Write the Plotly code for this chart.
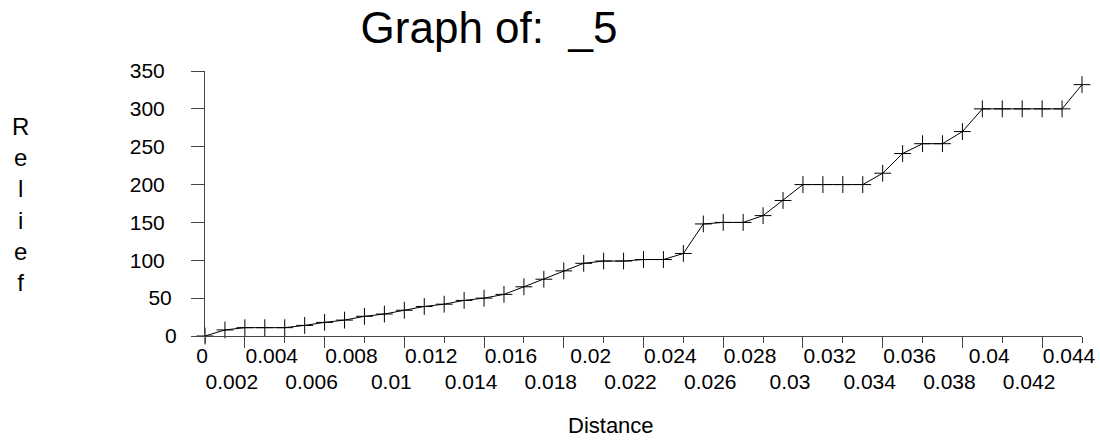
import plotly.graph_objects as go

# Relief profile sampled along the distance axis
distance = [0.000, 0.001, 0.002, 0.003, 0.004, 0.005, 0.006, 0.007, 0.008, 0.009,
            0.010, 0.011, 0.012, 0.013, 0.014, 0.015, 0.016, 0.017, 0.018, 0.019,
            0.020, 0.021, 0.022, 0.023, 0.024, 0.025, 0.026, 0.027, 0.028, 0.029,
            0.030, 0.031, 0.032, 0.033, 0.034, 0.035, 0.036, 0.037, 0.038, 0.039,
            0.040, 0.041, 0.042, 0.043, 0.044]
relief = [0, 8, 11, 11, 11, 14, 18, 21, 26, 29,
          34, 39, 42, 47, 50, 55, 65, 75, 86, 96,
          99, 99, 101, 101, 109, 148, 150, 150, 159, 179,
          200, 200, 200, 200, 215, 241, 254, 254, 270, 300,
          300, 300, 300, 300, 332]

# Tick labels, staggered over two rows
x_row1_vals = [0, 0.004, 0.008, 0.012, 0.016, 0.020, 0.024, 0.028, 0.032, 0.036, 0.040, 0.044]
x_row1_text = ["0", "0.004", "0.008", "0.012", "0.016", "0.02", "0.024", "0.028",
               "0.032", "0.036", "0.04", "0.044"]
x_row2_vals = [0.002, 0.006, 0.010, 0.014, 0.018, 0.022, 0.026, 0.030, 0.034, 0.038, 0.042]
x_row2_text = ["0.002", "0.006", "0.01", "0.014", "0.018", "0.022", "0.026", "0.03",
               "0.034", "0.038", "0.042"]
y_tick_vals = [0, 50, 100, 150, 200, 250, 300, 350]
y_tick_text = ["0", "50", "100", "150", "200", "250", "300", "350"]

title_text = "Graph of:\u00a0\u00a0_5"
x_title = "Distance"
y_title = "Relief"

FONT = "Liberation Sans, Arial, sans-serif"
AXIS_COLOR = "#444444"
W, H = 1100, 441
ML, MR, MT, MB = 205, 18, 71, 105
TICK_FONT = dict(size=21, family=FONT, color="black")

fig = go.Figure()
fig.add_trace(go.Scatter(
    x=distance, y=relief, mode="lines+markers",
    line=dict(color="black", width=1),
    marker=dict(symbol="cross-thin", size=12, line=dict(color="black", width=1)),
    cliponaxis=False, showlegend=False,
))
# invisible companion traces so the extra label axes have data to live on
for xa, ya in (("x2", "y"), ("x3", "y"), ("x", "y2"), ("x", "y3")):
    fig.add_trace(go.Scatter(
        x=distance, y=relief, xaxis=xa, yaxis=ya, mode="markers",
        marker=dict(opacity=0), hoverinfo="skip", showlegend=False,
    ))

x_range = [distance[0], distance[-1]]
y_range = [y_tick_vals[0], y_tick_vals[-1]]
# short labels near the origin sit closer to the axis than the three-digit ones
row1_text = [""] + x_row1_text[1:]
y_main_text = ["", ""] + y_tick_text[2:]


def label_axis_x(vals, text, ticklen, shift, standoff):
    return dict(range=x_range, overlaying="x", anchor="y", side="bottom",
                tickmode="array", tickvals=vals, ticktext=text,
                showgrid=False, zeroline=False, showline=False,
                ticks="outside", ticklen=ticklen, tickcolor=AXIS_COLOR, tickwidth=1,
                tickfont=TICK_FONT, ticklabelshift=shift, ticklabelstandoff=standoff,
                automargin=False)


def label_axis_y(vals, text, standoff):
    return dict(range=y_range, overlaying="y", anchor="x", side="left",
                tickmode="array", tickvals=vals, ticktext=text,
                showgrid=False, zeroline=False, showline=False,
                ticks="outside", ticklen=13, tickcolor=AXIS_COLOR, tickwidth=1,
                tickfont=TICK_FONT, ticklabelstandoff=standoff, automargin=False)


fig.update_layout(
    width=W, height=H,
    margin=dict(l=ML, r=MR, t=MT, b=MB, pad=0, autoexpand=False),
    paper_bgcolor="white", plot_bgcolor="white",
    font=dict(family=FONT, color="black"),
    title=dict(text=title_text, font=dict(size=44, family=FONT, color="black"),
               xref="container", x=489 / W, xanchor="center",
               yref="container", y=1 - 28 / H, yanchor="middle"),
    xaxis=dict(range=x_range, tickmode="array", tickvals=x_row1_vals, ticktext=row1_text,
               showgrid=False, zeroline=False, showline=True, linecolor=AXIS_COLOR, linewidth=1,
               ticks="outside", ticklen=6, tickcolor=AXIS_COLOR, tickwidth=1,
               tickfont=TICK_FONT, ticklabelshift=-13, ticklabelstandoff=-5,
               automargin=False),
    xaxis2=label_axis_x(x_row2_vals, x_row2_text, 11, -13, 16),
    xaxis3=label_axis_x(x_row1_vals[:1], x_row1_text[:1], 6, -3, -5),
    yaxis=dict(range=y_range, tickmode="array", tickvals=y_tick_vals, ticktext=y_main_text,
               showgrid=False, zeroline=False, showline=True, linecolor=AXIS_COLOR, linewidth=1,
               ticks="outside", ticklen=13, tickcolor=AXIS_COLOR, tickwidth=1,
               tickfont=TICK_FONT, ticklabelstandoff=22, automargin=False),
    yaxis2=label_axis_y(y_tick_vals[1:2], y_tick_text[1:2], 15),
    yaxis3=label_axis_y(y_tick_vals[:1], y_tick_text[:1], 10),
    annotations=[
        dict(text=x_title, xref="paper", yref="paper",
             x=(611 - ML) / (W - ML - MR), xanchor="center",
             y=-(425 - MT - (H - MT - MB)) / (H - MT - MB), yanchor="middle",
             showarrow=False, font=dict(size=22, family=FONT, color="black")),
        dict(text="<br>".join(list(y_title)), xref="paper", yref="paper",
             x=-(ML - 20) / (W - ML - MR), xanchor="center",
             y=1 - (204 - MT) / (H - MT - MB), yanchor="middle",
             showarrow=False, align="center",
             font=dict(size=24, family=FONT, color="black")),
    ],
)

fig.write_html("out.html")
